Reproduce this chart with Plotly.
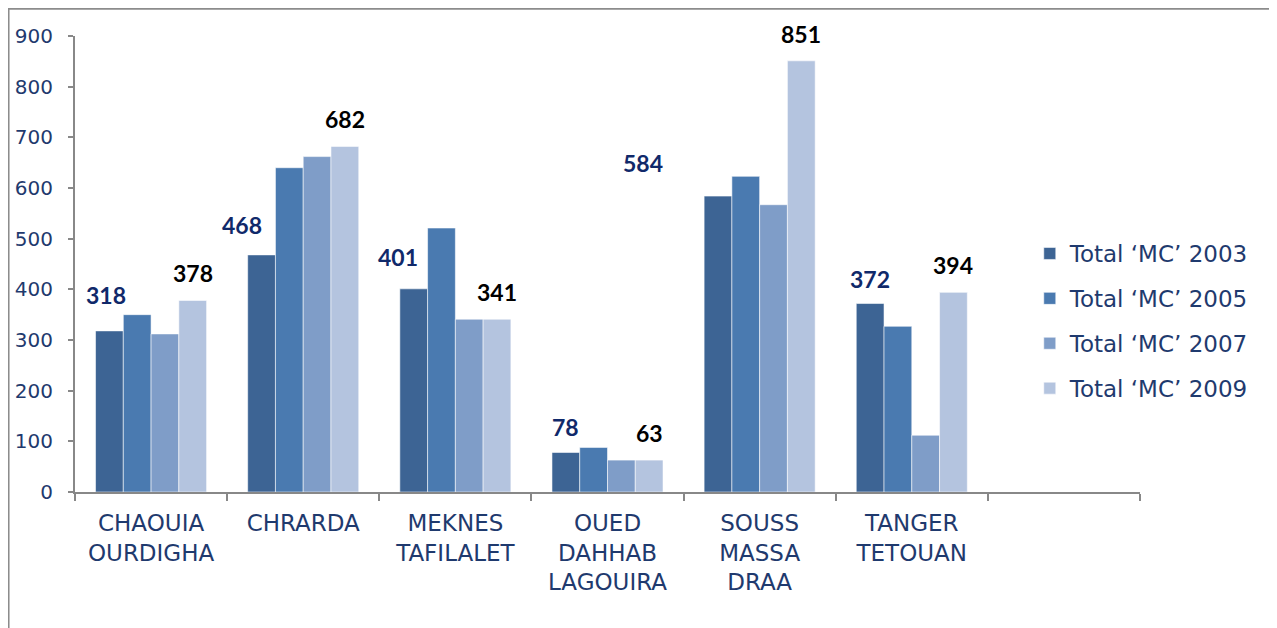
import plotly.graph_objects as go

categories = ["CHAOUIA<br>OURDIGHA", "CHRARDA", "MEKNES<br>TAFILALET",
              "OUED<br>DAHHAB<br>LAGOUIRA", "SOUSS<br>MASSA<br>DRAA", "TANGER<br>TETOUAN"]
series_names = ["Total ‘MC’ 2003", "Total ‘MC’ 2005", "Total ‘MC’ 2007", "Total ‘MC’ 2009"]
values_2003 = [318, 468, 401, 78, 584, 372]
values_2005 = [350, 640, 521, 88, 623, 327]
values_2007 = [312, 662, 341, 63, 567, 112]
values_2009 = [378, 682, 341, 63, 851, 394]
y_ticks = [0, 100, 200, 300, 400, 500, 600, 700, 800, 900]

# style
colors = ["#3D6494", "#4A7AB0", "#7F9DC8", "#B4C4DF"]
navy = "#1F3A6E"
label_navy = "#10296A"
axis_gray = "#888888"
BARGAP = 0.27
# manual nudges (pixels) of the 2003 value labels, as placed in the original
dx_2003 = [-3, -20, -16, 0, -75, 0]
dy_2003 = [36, 30, 32, 25, 33, 25]
dy_2009 = 27

fig = go.Figure()
all_values = [values_2003, values_2005, values_2007, values_2009]
for name, vals, col in zip(series_names, all_values, colors):
    fig.add_trace(go.Bar(
        x=categories, y=vals, name=name, legendgroup=name,
        marker=dict(color=col, line=dict(color="rgba(255,255,255,0.55)", width=1)),
        hoverinfo="x+y",
    ))

# empty seventh slot on the category axis (present in the original)
fig.add_trace(go.Scatter(x=[" "], y=[0], mode="markers", marker=dict(opacity=0),
                         showlegend=False, hoverinfo="skip"))

w = (1 - BARGAP) / 4
annotations = []
for i, v in enumerate(values_2003):
    annotations.append(dict(
        x=i - 1.5 * w, y=v, xref="x", yref="y", text=f"<b>{v}</b>",
        showarrow=False, xanchor="center", yanchor="middle",
        xshift=dx_2003[i], yshift=dy_2003[i],
        font=dict(family="Lato, Liberation Sans, sans-serif", size=23, color=label_navy)))
for i, v in enumerate(values_2009):
    annotations.append(dict(
        x=i + 1.5 * w, y=v, xref="x", yref="y", text=f"<b>{v}</b>",
        showarrow=False, xanchor="center", yanchor="middle", yshift=dy_2009,
        font=dict(family="Lato, Liberation Sans, sans-serif", size=23, color="#000000")))

# page body has an 8px margin, so the figure is drawn 8px in from the corner
fig.update_layout(
    width=1269, height=620,
    margin=dict(l=67, r=137, t=27.5, b=135.5, autoexpand=False),
    paper_bgcolor="white", plot_bgcolor="white",
    barmode="group", bargap=BARGAP, bargroupgap=0,
    font=dict(family="DejaVu Sans, sans-serif", color=navy),
    showlegend=True,
    legend=dict(x=0.8965, xanchor="left", y=0.375, yanchor="middle",
                font=dict(family="DejaVu Sans, sans-serif", size=23, color=navy),
                tracegroupgap=12, bgcolor="rgba(0,0,0,0)", itemwidth=30),
    annotations=annotations,
    shapes=[dict(type="rect", xref="paper", yref="paper",
                 x0=-0.0624, x1=1.1268, y0=-0.4, y1=1.060,
                 line=dict(color="#8C8C8C", width=2), fillcolor="rgba(0,0,0,0)",
                 layer="below")],
)

fig.update_xaxes(
    type="category", range=[-0.5, 6.5], tickson="boundaries",
    showline=True, linecolor=axis_gray, linewidth=2,
    ticks="outside", ticklen=7, tickcolor=axis_gray, tickwidth=2,
    showgrid=False, zeroline=False,
    tickfont=dict(family="DejaVu Sans, sans-serif", size=23, color=navy),
    ticklabelstandoff=9,
)
fig.update_yaxes(
    range=[0, 900], tickvals=y_ticks, ticktext=[str(t) for t in y_ticks],
    showline=True, linecolor=axis_gray, linewidth=2,
    ticks="outside", ticklen=5, tickcolor=axis_gray, tickwidth=2,
    showgrid=False, zeroline=False,
    tickfont=dict(family="DejaVu Sans, sans-serif", size=20, color=navy),
    ticklabelstandoff=11,
)

fig.write_html("out.html")
